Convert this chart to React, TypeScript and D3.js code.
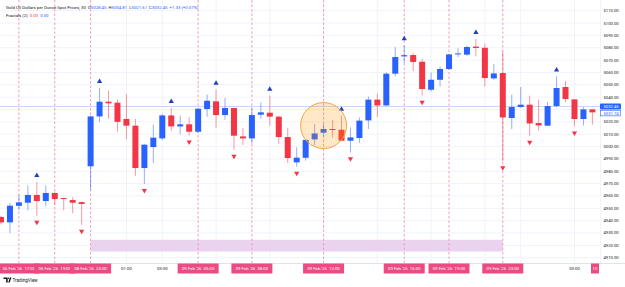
import React from 'react';
import * as d3 from 'd3';

const W = 625;
const H = 287;

// 30 min bars
const opens = [4943, 4938.6, 4952, 4954.5, 4960.8, 4955.9, 4962.4, 4958.3, 4956.7, 4955,
  4984, 5024.4, 5036.3, 5035.5, 5022.3, 5016.9, 4982.6, 4999.6, 5006.6, 5025.2,
  5016.3, 5018, 5012, 5030.4, 5036.6, 5025.5, 5031.2, 5008.2, 5006.6, 5025.8,
  5027.4, 5024.2, 5007.7, 4987.2, 4990.9, 5005.8, 5011.2, 5014.2, 5013.6, 5004.7,
  5006.9, 5021.2, 5038, 5033.3, 5059, 5073, 5074.1, 5068.7, 5046, 5054.1,
  5062.8, 5074.6, 5074.4, 5080.9, 5080, 5055.2, 5059.5, 5023.1, 5032, 5033.9,
  5019, 5016.9, 5032.8, 5048.2, 5038.2, 5022.3, 5030.1];
const highs = [4944, 4954.3, 4961, 4968.6, 4971.3, 4968.5, 4963.5, 4958.5, 4959, 4955.5,
  5025, 5047.4, 5045.2, 5038, 5042.5, 5022.5, 5002, 5017.7, 5026.5, 5031.2,
  5025, 5023.6, 5031, 5042, 5046, 5039.3, 5031.5, 5015, 5031.7, 5035.8,
  5041.2, 5025, 5015.2, 4999.3, 5006, 5018.2, 5018.5, 5021.7, 5025, 5015.5,
  5023.6, 5040.6, 5042.8, 5060, 5080.5, 5082, 5075.7, 5070.9, 5060, 5064.9,
  5075.2, 5079.5, 5081.9, 5087.1, 5083.3, 5066.8, 5077, 5042, 5048.2, 5041.2,
  5038, 5036, 5056.8, 5053.3, 5038.5, 5032, 5030.5];
const lows = [4937, 4930, 4949, 4948.3, 4944, 4951.6, 4953, 4948.3, 4946, 4936.7,
  4965, 5019.9, 5022.5, 5012, 5006, 4976.4, 4969.7, 4986.7, 5005, 5012.8,
  5010, 5009, 5011, 5024, 5015, 5021.7, 4997.4, 5001.3, 5002.3, 5022.6,
  5016.9, 5002, 4986.7, 4983.7, 4988.5, 5001, 5008, 5007.4, 5004.7, 4995.3,
  5002.9, 5014.2, 5023.9, 5033, 5056.8, 5067.6, 5061.2, 5041.2, 5044.7, 5048.7,
  5062, 5072.5, 5073.5, 5073, 5048.7, 5054.1, 4988, 5014.2, 5031.5, 5008.8,
  5013, 5017, 5032, 5035.8, 5016.3, 5017, 5017.7];
const closes = [4938.6, 4952.1, 4954.8, 4960.8, 4955.9, 4962.4, 4957.5, 4957.8, 4954.5, 4953.5,
  5024.4, 5036.3, 5035, 5020, 5016.9, 4982.6, 5001.5, 5007.2, 5025.2, 5016.3,
  5018, 5012, 5030.6, 5037.1, 5025.5, 5031.2, 5008.8, 5006.6, 5025.5, 5027.7,
  5024.2, 5007.7, 4990.7, 4991, 5005.4, 5010.6, 5014.2, 5013.4, 5004.7, 5007.4,
  5021, 5038, 5033.3, 5059, 5072.5, 5074, 5068.5, 5046.6, 5054.1, 5062.8,
  5074.6, 5075.4, 5080.6, 5079.8, 5055.5, 5059.2, 5023.6, 5032, 5033.9, 5018.7,
  5017.1, 5032.8, 5047.4, 5038.5, 5022.3, 5030.1, 5027.7];

const fractalUps = [4, 11, 19, 24, 30, 38, 45, 53, 62];
const fractalDowns = [4, 9, 16, 21, 26, 33, 39, 47, 56, 59, 64];

const timeTicks: [number, string][] = [[14, '01:00'], [18, '03:00'], [24, '06:00'], [30, '09:00'],
  [36, '12:00'], [42, '15:00'], [48, '18:00'], [54, '21:00'], [58, '10'], [64, '03:00']];
const markedTimes: [number, string][] = [[2, "06 Feb '26  17:00"], [6, "06 Feb '26  19:00"],
  [10, "08 Feb '26  23:00"], [22, "09 Feb '26  05:00"], [28, "09 Feb '26  08:00"],
  [36, "09 Feb '26  12:00"], [45, "09 Feb '26  16:30"], [50, "09 Feb '26  19:00"],
  [56, "09 Feb '26  23:00"]];

const lastPrice = 5032.45;
const otherPrice = 5031.74;
const session = { from: 10, to: 56, lo: 4915, hi: 4924.5 };
const circle = { at: 36, price: 5017 };

const UP = '#2962ff';
const DOWN = '#f23645';
const PINK = '#ec4a83';
const FONT = 'Roboto, "Liberation Sans", sans-serif';

export default function App() {
  const plotR = 600;
  const plotB = 263;
  const x = d3.scaleLinear().domain([0, 66]).range([1, 592.4]);
  const y = d3.scaleLinear().domain([4910, 5110]).range([257.7, 10.7]);
  const bw = 6;

  // labels hidden behind the highlighted boxes are not drawn
  const freeTicks = timeTicks.filter(([i]) =>
    markedTimes.every(([m]) => Math.abs(x(m) - x(i)) > 28));
  const freePrices = y.ticks(20).filter(t =>
    y(t) < y(lastPrice) - 6 || y(t) > y(otherPrice) + 9);

  return (
    <svg width={W} height={H} style={{ position: 'fixed', left: 0, top: 0, background: '#fff' }}
      fontFamily={FONT}>
      <rect width={W} height={H} fill="#fff" />
      <defs>
        <clipPath id="plot"><rect x={0} y={0} width={plotR} height={plotB} /></clipPath>
      </defs>

      {/* grid */}
      {y.ticks(20).map(t => (
        <line key={'h' + t} x1={0} x2={plotR} y1={y(t)} y2={y(t)} stroke="#f0f3fa" />
      ))}
      {timeTicks.map(([i]) => (
        <line key={'v' + i} x1={x(i)} x2={x(i)} y1={0} y2={plotB} stroke="#f0f3fa" />
      ))}

      <g clipPath="url(#plot)">
        {/* session band */}
        <rect x={x(session.from)} width={x(session.to) - x(session.from)}
          y={y(session.hi)} height={y(session.lo) - y(session.hi)} fill="#e9d3ef" />

        {markedTimes.map(([i]) => (
          <line key={'m' + i} x1={x(i)} x2={x(i)} y1={0} y2={plotB}
            stroke="#f59ab9" strokeDasharray="2.5,2" />
        ))}

        <line x1={0} x2={plotR} y1={y(lastPrice)} y2={y(lastPrice)} stroke="#c9d6fd" />

        {closes.map((c, i) => {
          const o = opens[i];
          const col = c >= o ? UP : DOWN;
          const top = y(Math.max(o, c));
          const h = Math.max(1, y(Math.min(o, c)) - top);
          return (
            <g key={'c' + i}>
              <line x1={x(i)} x2={x(i)} y1={y(highs[i])} y2={y(lows[i])}
                stroke={col} strokeOpacity={0.5} />
              <rect x={x(i) - bw / 2} y={top} width={bw} height={h} fill={col} />
            </g>
          );
        })}

        {fractalUps.map(i => {
          const cx = x(i), cy = y(highs[i]) - 7;
          return <path key={'u' + i} d={`M${cx},${cy - 2.5}L${cx + 2.6},${cy + 2}L${cx - 2.6},${cy + 2}Z`} fill="#1f3fbf" />;
        })}
        {fractalDowns.map(i => {
          const cx = x(i), cy = y(lows[i]) + 7;
          return <path key={'d' + i} d={`M${cx},${cy + 2.5}L${cx + 2.6},${cy - 2}L${cx - 2.6},${cy - 2}Z`} fill={DOWN} />;
        })}

        <circle cx={x(circle.at)} cy={y(circle.price)} r={23}
          fill="#ff9800" fillOpacity={0.22} stroke="#f5a640" strokeWidth={1} />
      </g>

      {/* price scale */}
      <rect x={plotR} y={0} width={W - plotR} height={plotB} fill="#fff" />
      <line x1={plotR + 0.5} x2={plotR + 0.5} y1={0} y2={plotB} stroke="#f0f3fa" />
      {freePrices.map(t => (
        <text key={'yl' + t} x={603.5} y={y(t)} dy="0.35em" fontSize={4.2} fill="#131722">
          {t.toFixed(2)}
        </text>
      ))}
      <rect x={plotR} y={y(lastPrice) - 3} width={21} height={6} fill={UP} rx={0.8} />
      <text x={603.5} y={y(lastPrice)} dy="0.35em" fontSize={4.2} fill="#fff">{lastPrice.toFixed(2)}</text>
      <rect x={plotR + 0.5} y={y(lastPrice) + 3.8} width={20} height={5.6} fill="#fff" stroke={UP} strokeWidth={0.6} />
      <text x={603.5} y={y(lastPrice) + 6.6} dy="0.35em" fontSize={4.2} fill={UP}>{otherPrice.toFixed(2)}</text>

      {/* time scale */}
      <rect x={0} y={plotB} width={W} height={12} fill="#fff" />
      <line x1={0} x2={W} y1={plotB + 0.5} y2={plotB + 0.5} stroke="#e0e3eb" />
      {freeTicks.map(([i, lab]) => (
        <text key={'xl' + i} x={x(i)} y={268.5} dy="0.35em" textAnchor="middle" fontSize={4.3} fill="#131722">
          {lab}
        </text>
      ))}
      {markedTimes.map(([i, lab]) => (
        <g key={'mb' + i}>
          <rect x={x(i) - 20.5} y={263.5} width={41} height={10} fill={PINK} />
          <text x={x(i)} y={268.5} dy="0.35em" textAnchor="middle" fontSize={4.3} fill="#fff"
            style={{ whiteSpace: 'pre' }}>{lab}</text>
        </g>
      ))}
      <rect x={591} y={263.5} width={8} height={10} fill={PINK} />
      <text x={595} y={268.5} dy="0.35em" textAnchor="middle" fontSize={4.3} fill="#fff">10</text>
      <rect x={plotR} y={plotB + 1} width={W - plotR} height={11} fill="#fff" />

      {/* legend */}
      <text x={6} y={8.5} fontSize={4.3} fill="#131722">
        Gold US Dollars per Ounce Spot Prices, 30
        <tspan dx={2}>O</tspan><tspan fill={UP}>5028.45</tspan>
        <tspan dx={2}>H</tspan><tspan fill={UP}>5034.81</tspan>
        <tspan dx={2}>L</tspan><tspan fill={UP}>5021.61</tspan>
        <tspan dx={2}>C</tspan><tspan fill={UP}>5032.45</tspan>
        <tspan dx={2} fill={UP}>+1.33 (+0.07%)</tspan>
      </text>
      <text x={6} y={16.5} fontSize={4.3} fill="#131722">
        Fractals (2)
        <tspan dx={2} fill={DOWN}>0.00</tspan>
        <tspan dx={2} fill={UP}>0.00</tspan>
      </text>

      {/* watermark */}
      <g fill="#131722">
        <path d="M3.5,277.5h4.2v5h-1.6v-3.4h-2.6z" />
        <circle cx={8.6} cy={278.3} r={0.8} />
        <path d="M8.2,282.5l1.8,-5h1.5l-1.8,5z" />
      </g>
      <text x={12.5} y={282.3} fontSize={4.6} fill="#131722">TradingView</text>
    </svg>
  );
}
